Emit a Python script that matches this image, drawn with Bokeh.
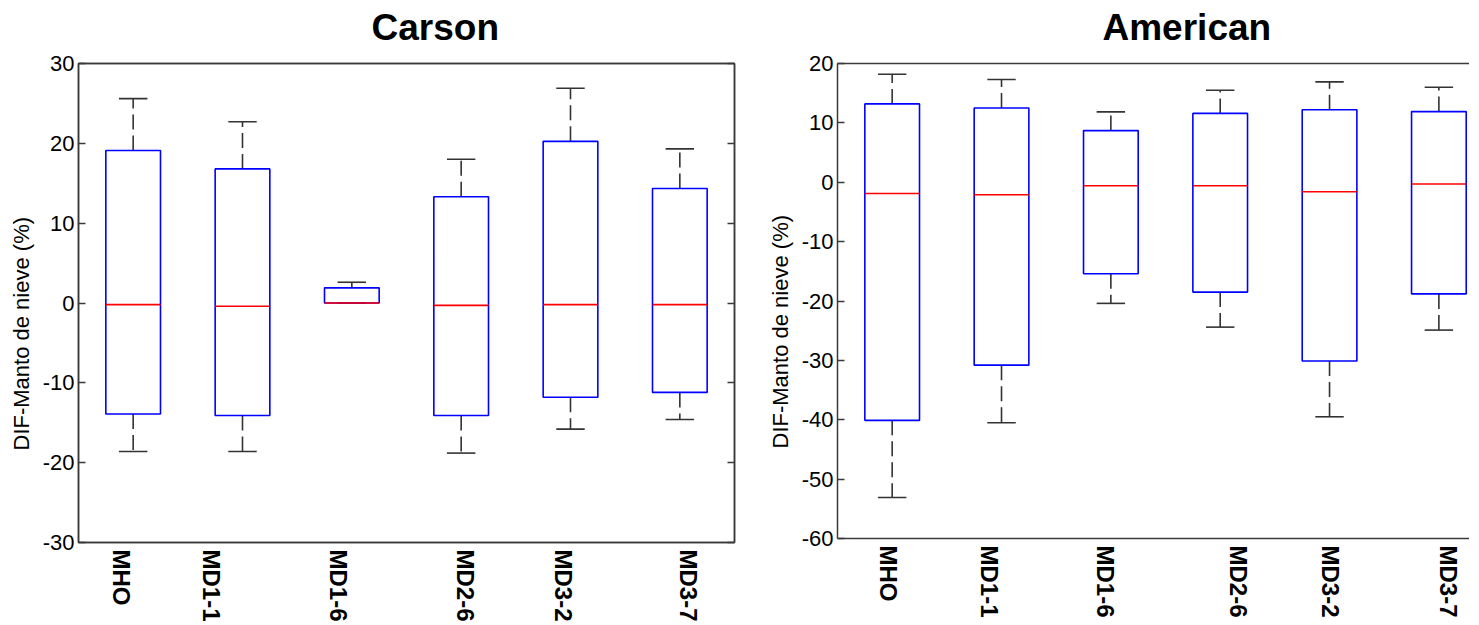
import math
from bokeh.plotting import figure
from bokeh.layouts import row
from bokeh.models import Range1d, LinearAxis, FixedTicker, Title, ColumnDataSource
from bokeh.embed import file_html
from bokeh.resources import INLINE

categories = ["MHO", "MD1-1", "MD1-6", "MD2-6", "MD3-2", "MD3-7"]

# Carson
carson_low = [-18.6, -18.6, 0.0, -18.8, -15.8, -14.6]
carson_q1 = [-13.9, -14.1, 0.0, -14.1, -11.8, -11.2]
carson_med = [-0.2, -0.4, 0.0, -0.3, -0.2, -0.2]
carson_q3 = [19.1, 16.8, 1.9, 13.3, 20.25, 14.35]
carson_high = [25.6, 22.7, 2.6, 18.0, 26.9, 19.3]

# American
american_low = [-53.1, -40.5, -20.4, -24.4, -39.5, -24.9]
american_q1 = [-40.1, -30.8, -15.4, -18.5, -30.1, -18.8]
american_med = [-1.9, -2.1, -0.6, -0.6, -1.6, -0.3]
american_q3 = [13.2, 12.5, 8.7, 11.6, 12.2, 11.9]
american_high = [18.2, 17.3, 11.85, 15.5, 16.9, 16.0]

carson_ticks = [-30, -20, -10, 0, 10, 20, 30]
american_ticks = [-60, -50, -40, -30, -20, -10, 0, 10, 20]

# where the (hand-placed) category labels sit under each panel
carson_label_pos = [0.89, 1.72, 2.88, 4.04, 4.94, 6.08]
american_label_pos = [0.97, 1.89, 2.95, 4.17, 5.01, 6.09]

YLABEL = "DIF-Manto de nieve (%)"
TICK_FONT = "Liberation Sans"
AX_COLOR = "#3a3a3a"
UNIT_PX = 109.3


def style_y_axis(ax, ticks, show_labels=True):
    ax.ticker = FixedTicker(ticks=ticks)
    ax.major_tick_in = 7
    ax.major_tick_out = 0
    ax.minor_tick_in = 0
    ax.minor_tick_out = 0
    ax.axis_line_color = AX_COLOR
    ax.axis_line_width = 1.5
    ax.major_tick_line_color = AX_COLOR
    ax.major_tick_line_width = 1.5
    ax.major_label_text_font = TICK_FONT
    ax.major_label_text_color = "black"
    ax.major_label_standoff = 4
    ax.major_label_text_font_size = "22px"
    if show_labels:
        ax.major_label_overrides = {t: str(t) for t in ticks}
    else:
        ax.major_label_overrides = {t: "" for t in ticks}


def make_panel(title, low, q1, med, q3, high, ticks, label_pos, yr, xr_end,
               frame_h, border_bottom, border_left, border_right,
               full_box, title_offset, ylabel_offset, ylabel_standoff):
    p = figure(output_backend="svg", toolbar_location=None,
               x_range=Range1d(0.5, xr_end), y_range=Range1d(*yr),
               frame_width=int(round((xr_end - 0.5) * UNIT_PX)), frame_height=frame_h,
               min_border_top=62, min_border_bottom=border_bottom,
               min_border_left=border_left, min_border_right=border_right,
               background_fill_color="white", border_fill_color="white")
    p.xgrid.visible = False
    p.ygrid.visible = False
    xa = p.xaxis[0]
    ya = p.yaxis[0]
    if full_box:
        p.outline_line_color = AX_COLOR
        p.outline_line_width = 1.5
    else:
        p.outline_line_color = None

    # y axis
    style_y_axis(ya, ticks)
    if full_box:
        ra = LinearAxis()
        style_y_axis(ra, ticks, show_labels=False)
        ra.major_label_standoff = 0
        p.add_layout(ra, "right")

    # top border line; its single invisible tick spaces the title from the frame
    ta = LinearAxis(ticker=FixedTicker(ticks=[3]))
    ta.major_tick_in = 0
    ta.major_tick_out = 11
    ta.major_tick_line_color = None
    ta.minor_tick_in = 0
    ta.minor_tick_out = 0
    ta.major_label_standoff = 0
    ta.major_label_overrides = {3: ""}
    ta.axis_line_color = AX_COLOR
    ta.axis_line_width = 1.5
    p.add_layout(ta, "above")

    # x axis
    xa.ticker = FixedTicker(ticks=label_pos)
    xa.major_label_overrides = {pos: c for pos, c in zip(label_pos, categories)}
    xa.major_label_orientation = -math.pi / 2
    xa.major_tick_in = 0
    xa.major_tick_out = 0
    xa.minor_tick_in = 0
    xa.minor_tick_out = 0
    xa.axis_line_color = AX_COLOR
    xa.axis_line_width = 1.5
    xa.major_label_text_font = "Liberation Sans"
    xa.major_label_text_font_style = "bold"
    xa.major_label_text_font_size = "24px"
    xa.major_label_text_color = "black"
    xa.major_label_standoff = 7

    xs = list(range(1, len(categories) + 1))
    src = ColumnDataSource(dict(
        x=xs,
        x0=[x - 0.25 for x in xs], x1=[x + 0.25 for x in xs],
        c0=[x - 0.13 for x in xs], c1=[x + 0.13 for x in xs],
        low=low, q1=q1, med=med, q3=q3, high=high))

    # whiskers (dashed) and caps
    p.segment(x0="x", y0="q3", x1="x", y1="high", source=src,
              line_color="#333333", line_width=1.6, line_dash="15 6")
    p.segment(x0="x", y0="q1", x1="x", y1="low", source=src,
              line_color="#333333", line_width=1.6, line_dash="15 6")
    p.segment(x0="c0", y0="high", x1="c1", y1="high", source=src,
              line_color="#333333", line_width=1.6)
    p.segment(x0="c0", y0="low", x1="c1", y1="low", source=src,
              line_color="#333333", line_width=1.6)
    # boxes
    p.quad(left="x0", right="x1", bottom="q1", top="q3", source=src,
           fill_color=None, line_color="#0000ff", line_width=1.6)
    # medians
    p.segment(x0="x0", y0="med", x1="x1", y1="med", source=src,
              line_color="#ff0000", line_width=1.6)

    # title (above the frame)
    t = Title(text=title, align="left", offset=title_offset,
              text_font="Liberation Sans", text_font_style="bold",
              text_font_size="37px", text_color="black", standoff=9)
    p.add_layout(t, "above")
    # y label (left of the axis)
    yl = Title(text=YLABEL, align="left", offset=ylabel_offset,
               text_font="Liberation Sans", text_font_style="normal",
               text_font_size="22px", text_color="black", standoff=ylabel_standoff)
    p.add_layout(yl, "left")
    return p


p1 = make_panel("Carson", carson_low, carson_q1, carson_med, carson_q3, carson_high,
                carson_ticks, carson_label_pos, (-30, 30), 6.5,
                479, 82, 72, 20, True, 293, 92, 12)
p2 = make_panel("American", american_low, american_q1, american_med, american_q3,
                american_high, american_ticks, american_label_pos, (-60, 20), 6.28,
                475, 86, 83, 0, False, 265, 90, 12)

layout = row(p1, p2)
open("out.html", "w").write(file_html(layout, INLINE))
